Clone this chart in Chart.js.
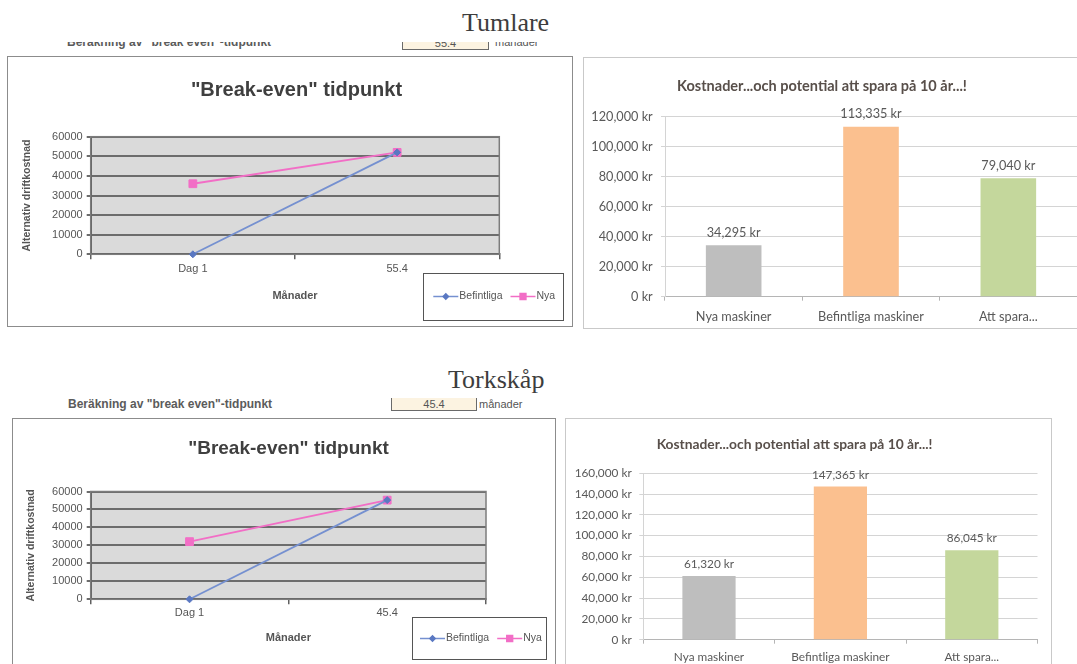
<!DOCTYPE html>
<html>
<head>
<meta charset="utf-8">
<title>Tumlare / Torkskåp – break-even</title>
<script src="https://cdn.jsdelivr.net/npm/chart.js@4.4.1/dist/chart.umd.min.js"></script>
<style>
  html, body { margin: 0; padding: 0; background: #fff; }
  body { width: 1077px; height: 664px; overflow: hidden; position: relative;
         font-family: "Liberation Sans", Arial, sans-serif; }
  .abs { position: absolute; white-space: nowrap; }
  .sheet-title { font-family: "Liberation Serif", "Times New Roman", serif; font-size: 26px;
                 line-height: 30px; color: #3d3d3d; }
  .calc-label { font-weight: bold; font-size: 12px; line-height: 14px; color: #5b5b5b; }
  .months-box { border: 1px solid #6a6a6a; border-top: none; background: #fcf3e1; font-size: 11px;
                line-height: 12px; color: #555; text-align: center; box-sizing: border-box; }
  .months-unit { font-size: 11px; line-height: 13px; color: #555; }
  .frame { position: absolute; border: 1px solid #8c8c8c; }
  .frame.light { border-color: #c9c9c9; }
  .frame canvas { display: block; }
  .clip { position: absolute; left: 0; top: 42px; width: 1077px; height: 13px; overflow: hidden; }
</style>
</head>
<body>

<!-- Tumlare block -->
<div class="abs sheet-title" style="left:462px; top:8px;">Tumlare</div>
<div class="clip">
  <div class="abs calc-label" style="left:67px; top:-7px;">Beräkning av "break even"-tidpunkt</div>
  <div class="abs months-box" style="left:402px; top:-5px; width:87px; height:13px;">55.4</div>
  <div class="abs months-unit" style="left:495px; top:-6px;">månader</div>
</div>
<div class="frame" style="left:7px; top:56px;"><canvas id="beTumlare" width="564" height="269"></canvas></div>
<div class="frame light" style="left:583px; top:57px;"><canvas id="costTumlare" width="520" height="270"></canvas></div>

<!-- Torkskåp block -->
<div class="abs sheet-title" style="left:448px; top:365px;">Torkskåp</div>
<div class="abs calc-label" style="left:68px; top:397px;">Beräkning av "break even"-tidpunkt</div>
<div class="abs months-box" style="left:391px; top:398px; width:86px; height:13px;">45.4</div>
<div class="abs months-unit" style="left:479px; top:398px;">månader</div>
<div class="frame" style="left:12px; top:418px;"><canvas id="beTorkskap" width="542" height="250"></canvas></div>
<div class="frame light" style="left:565px; top:418px;"><canvas id="costTorkskap" width="485" height="250"></canvas></div>

<script>
// ---- Break-even: running cost at day 1 and at the break-even month ----
const tumlareMonths = ['Dag 1', '55.4'];
const tumlareBefintliga = [0, 52000];
const tumlareNya = [36000, 52000];

const torkskapMonths = ['Dag 1', '45.4'];
const torkskapBefintliga = [0, 55200];
const torkskapNya = [32100, 55200];

const breakEvenAxisMax = 60000;
const breakEvenAxisStep = 10000;

// ---- Ten-year costs and what can be saved ----
const costCategories = ['Nya maskiner', 'Befintliga maskiner', 'Att spara...'];
const tumlareCosts = [34295, 113335, 79040];
const torkskapCosts = [61320, 147365, 86045];

const tumlareCostAxisMax = 120000;
const torkskapCostAxisMax = 160000;
const costAxisStep = 20000;

// ---------------------------------------------------------------
const SANS = '"Liberation Sans", Arial, sans-serif';
const HUMANIST = 'Lato, "Open Sans", sans-serif';

function kr(v) {
  return String(Math.round(v)).replace(/\B(?=(\d{3})+(?!\d))/g, ',') + ' kr';
}

// Grey plot-area fill and frame behind the break-even lines
const plotFrame = {
  id: 'plotFrame',
  beforeDraw(chart, args, o) {
    const a = chart.chartArea, ctx = chart.ctx;
    ctx.save();
    ctx.fillStyle = o.fill;
    ctx.fillRect(a.left, a.top, a.right - a.left, a.bottom - a.top);
    ctx.restore();
  },
  beforeDatasetsDraw(chart, args, o) {
    const a = chart.chartArea, ctx = chart.ctx;
    ctx.save();
    ctx.strokeStyle = o.stroke;
    ctx.lineWidth = o.width;
    ctx.strokeRect(a.left, a.top, a.right - a.left, a.bottom - a.top);
    ctx.restore();
  }
};

// Boxed legend in the lower-right corner, built from the datasets
const boxLegend = {
  id: 'boxLegend',
  afterDraw(chart, args, o) {
    const ctx = chart.ctx;
    ctx.save();
    ctx.strokeStyle = o.borderColor;
    ctx.lineWidth = 1;
    ctx.strokeRect(Math.round(o.x) + 0.5, Math.round(o.y) + 0.5, Math.round(o.w), Math.round(o.h));
    ctx.font = o.font;
    ctx.textBaseline = 'middle';
    ctx.textAlign = 'left';
    const cy = Math.round(o.y + o.h / 2) + 0.5;
    let x = o.x + o.startX;
    chart.data.datasets.forEach(ds => {
      ctx.strokeStyle = ds.borderColor;
      ctx.lineWidth = 1.5;
      ctx.beginPath();
      ctx.moveTo(x, cy);
      ctx.lineTo(x + o.sample, cy);
      ctx.stroke();
      ctx.fillStyle = ds.pointBackgroundColor;
      ctx.strokeStyle = ds.pointBorderColor;
      Chart.helpers.drawPoint(ctx, {
        pointStyle: ds.pointStyle, radius: ds.pointRadius * o.markerScale,
        borderWidth: 1, rotation: 0
      }, x + o.sample / 2, cy);
      x += o.sample + o.textGap;
      ctx.fillStyle = o.color;
      ctx.fillText(ds.label, x, cy);
      x += ctx.measureText(ds.label).width + o.itemGap;
    });
    ctx.restore();
  }
};

// Value written above every bar
const valueLabels = {
  id: 'valueLabels',
  afterDatasetsDraw(chart, args, o) {
    const ctx = chart.ctx;
    const values = chart.data.datasets[0].data;
    ctx.save();
    ctx.font = o.font;
    ctx.fillStyle = o.color;
    ctx.textAlign = 'center';
    ctx.textBaseline = 'middle';
    chart.getDatasetMeta(0).data.forEach((bar, i) => {
      ctx.fillText(kr(values[i]), bar.x, bar.y - o.offset);
    });
    ctx.restore();
  }
};

function breakEvenChart(id, months, befintliga, nya, g) {
  return new Chart(document.getElementById(id), {
    type: 'line',
    data: {
      labels: months,
      datasets: [
        { label: 'Befintliga', data: befintliga, borderColor: '#7590d0', backgroundColor: '#5a78c2',
          pointBackgroundColor: '#5a78c2', pointBorderColor: '#5a78c2', borderWidth: 1.8,
          pointStyle: 'rectRot', pointRadius: 3.5, pointBorderWidth: 1, clip: false },
        { label: 'Nya', data: nya, borderColor: '#f26ec6', backgroundColor: '#f26ec6',
          pointBackgroundColor: '#f26ec6', pointBorderColor: '#f26ec6', borderWidth: 2,
          pointStyle: 'rect', pointRadius: 5.5, pointBorderWidth: 1, clip: false }
      ]
    },
    options: {
      responsive: false, animation: false, devicePixelRatio: 1, events: [],
      layout: { padding: { left: g.padLeft, top: 0, bottom: 0, right: 0 } },
      plugins: {
        legend: { display: false },
        tooltip: { enabled: false },
        title: {
          display: true, text: '"Break-even" tidpunkt', color: '#3f3f3f',
          font: { family: SANS, size: g.titleSize, weight: 'bold' },
          padding: { top: g.titleTop, bottom: g.titleBottom }
        },
        plotFrame: { fill: '#dadada', stroke: '#7c7c7c', width: 1.5 },
        boxLegend: Object.assign({
          borderColor: '#555', font: '10.5px ' + SANS, color: '#555',
          sample: 25, textGap: 1, itemGap: 8, markerScale: 0.75
        }, g.legend)
      },
      scales: {
        x: {
          offset: true,
          grid: { offset: true, drawOnChartArea: false, drawTicks: true, tickLength: 5,
                  color: '#606060', lineWidth: 1.5 },
          border: { display: true, color: '#5c5c5c', width: 2 },
          ticks: { color: '#555', font: { family: SANS, size: 11 }, padding: g.xTickPad,
                   maxRotation: 0, autoSkip: false },
          title: { display: true, text: 'Månader', color: '#555',
                   font: { family: SANS, size: 11, weight: 'bold' },
                   padding: { top: 0, bottom: g.xTitlePad } },
          afterFit(s) { s.height = g.xHeight; }
        },
        y: {
          min: 0, max: breakEvenAxisMax,
          ticks: { stepSize: breakEvenAxisStep, color: '#555', font: { family: SANS, size: 11 },
                   padding: 4, callback: v => String(v) },
          grid: { color: '#6c6c6c', lineWidth: 2, tickLength: 4, tickColor: '#6c6c6c' },
          border: { display: true, color: '#5c5c5c', width: 2 },
          title: { display: true, text: 'Alternativ driftkostnad', color: '#555',
                   font: { family: SANS, size: 10.5, weight: 'bold' },
                   padding: { top: g.yTitlePad, bottom: 0 } },
          afterFit(s) { s.width = g.yWidth; }
        },
        // empty strip on the right where the legend sits
        legendSpace: {
          type: 'linear', position: 'right', display: true,
          grid: { display: false, drawTicks: false }, border: { display: false },
          ticks: { display: false },
          afterFit(s) { s.width = g.rightSpace; }
        }
      }
    },
    plugins: [plotFrame, boxLegend]
  });
}

function costChart(id, costs, axisMax, g) {
  return new Chart(document.getElementById(id), {
    type: 'bar',
    data: {
      labels: costCategories,
      datasets: [{
        data: costs, backgroundColor: ['#bebebe', '#fbc08f', '#c4d79c'], borderWidth: 0,
        barPercentage: 0.405, categoryPercentage: 1
      }]
    },
    options: {
      responsive: false, animation: false, devicePixelRatio: 1, events: [],
      layout: { padding: { left: g.padLeft, top: 0, bottom: 0, right: g.padRight } },
      plugins: {
        legend: { display: false },
        tooltip: { enabled: false },
        title: {
          display: true, text: 'Kostnader...och potential att spara på 10 år...!', color: '#584f4a',
          font: { family: HUMANIST, size: g.titleSize, weight: 'bold' },
          padding: { top: g.titleTop, bottom: g.titleBottom }
        },
        valueLabels: { font: g.tickSize + 'px ' + HUMANIST, color: '#595959', offset: g.labelOffset }
      },
      scales: {
        x: {
          grid: { offset: true, drawOnChartArea: false, tickLength: 4, color: '#b5b5b5' },
          border: { color: '#b5b5b5' },
          ticks: { color: '#595959', font: { family: HUMANIST, size: g.tickSize }, padding: g.xTickPad,
                   maxRotation: 0, autoSkip: false },
          afterFit(s) { s.height = g.xHeight; }
        },
        y: {
          min: 0, max: axisMax,
          ticks: { stepSize: costAxisStep, color: '#595959', font: { family: HUMANIST, size: g.tickSize },
                   padding: g.yTickPad, callback: kr },
          grid: { color: '#d4d4d4', tickLength: 4 },
          border: { color: '#d4d4d4' },
          afterFit(s) { s.width = g.yWidth; }
        }
      }
    },
    plugins: [valueLabels]
  });
}

breakEvenChart('beTumlare', tumlareMonths, tumlareBefintliga, tumlareNya, {
  padLeft: 13, yWidth: 69.7, rightSpace: 72.7, xHeight: 71.7,
  titleSize: 20, titleTop: 21, titleBottom: 34.7,
  xTickPad: 3, xTitlePad: 23.4, yTitlePad: 0,
  legend: { x: 415.3, y: 215.7, w: 140.4, h: 46.6, startX: 10 }
});

breakEvenChart('beTorkskap', torkskapMonths, torkskapBefintliga, torkskapNya, {
  padLeft: 9, yWidth: 68.7, rightSpace: 69, xHeight: 69.7,
  titleSize: 19, titleTop: 17.9, titleBottom: 31.8,
  xTickPad: 1.8, xTitlePad: 24.4, yTitlePad: 3.1,
  legend: { x: 399, y: 198, w: 134, h: 42, startX: 8 }
});

costChart('costTumlare', tumlareCosts, tumlareCostAxisMax, {
  padLeft: -17, yWidth: 98, padRight: 27, xHeight: 31.3,
  titleSize: 14.5, titleTop: 19.8, titleBottom: 21.5,
  tickSize: 12.7, xTickPad: 8.4, yTickPad: 8.3, labelOffset: 12.4
});

costChart('costTorkskap', torkskapCosts, torkskapCostAxisMax, {
  padLeft: -14.5, yWidth: 91.8, padRight: 13.5, xHeight: 29.3,
  titleSize: 13.8, titleTop: 17.7, titleBottom: 20,
  tickSize: 11.8, xTickPad: 6.5, yTickPad: 7.6, labelOffset: 11.5
});
</script>
</body>
</html>
